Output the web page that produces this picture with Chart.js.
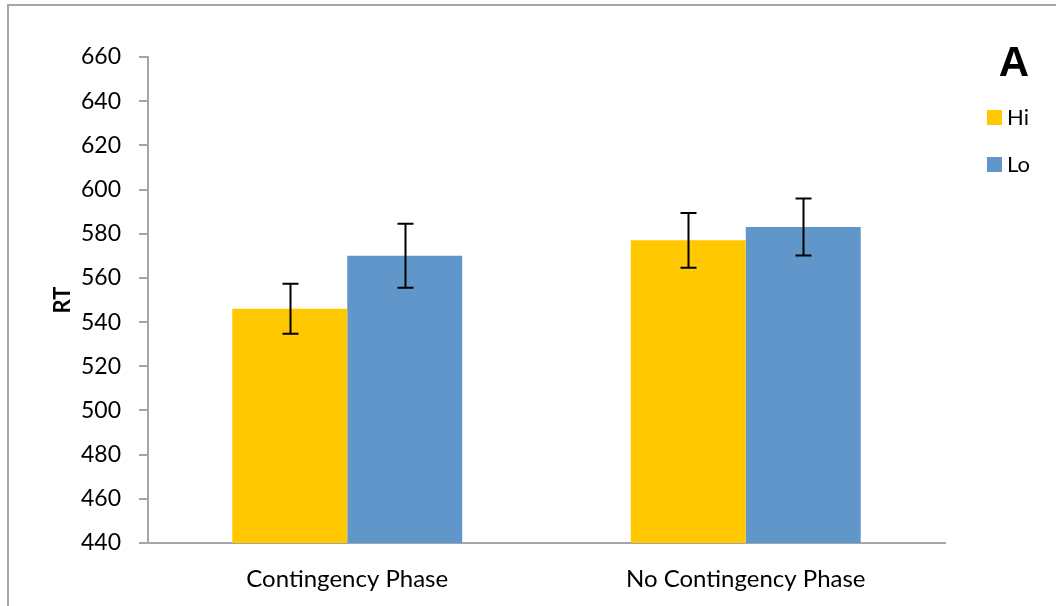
<!DOCTYPE html>
<html>
<head>
<meta charset="utf-8">
<script src="https://cdn.jsdelivr.net/npm/chart.js@4.4.0/dist/chart.umd.min.js"></script>
<style>
  html, body { margin: 0; padding: 0; background: #fff; }
  #wrap { position: relative; width: 1056px; height: 606px; overflow: hidden; }
  #frame { position: absolute; left: 7px; top: 4px; width: 1100px; height: 700px; border-left: 2px solid #a6a6a6; border-top: 2px solid #a6a6a6; box-sizing: border-box; }
  canvas { position: absolute; left: 0; top: 0; }
</style>
</head>
<body>
<div id="wrap">
  <div id="frame"></div>
  <canvas id="c" width="1056" height="606"></canvas>
</div>
<script>
const categories = ["Contingency Phase", "No Contingency Phase"];
const seriesNames = ["Hi", "Lo"];
const hiValues = [546, 577];
const loValues = [570, 583];
const hiErrors = [11.3, 12.4];
const loErrors = [14.5, 12.9];
const yTicks = [440, 460, 480, 500, 520, 540, 560, 580, 600, 620, 640, 660];
const panelLabel = "A";
const yTitle = "RT";

const FONT = "Lato";
const errors = [hiErrors, loErrors];

const errorBars = {
  id: 'errorBars',
  afterDatasetsDraw(chart) {
    const ctx = chart.ctx;
    const y = chart.scales.y;
    ctx.save();
    ctx.strokeStyle = '#000';
    ctx.lineWidth = 2;
    chart.data.datasets.forEach((ds, di) => {
      const meta = chart.getDatasetMeta(di);
      meta.data.forEach((bar, i) => {
        const v = ds.data[i];
        const e = errors[di][i];
        const x = Math.round(bar.x) + 0.5;
        const yt = y.getPixelForValue(v + e);
        const yb = y.getPixelForValue(v - e);
        const cap = 8;
        ctx.beginPath();
        ctx.moveTo(x, yt); ctx.lineTo(x, yb);
        ctx.moveTo(x - cap, yt); ctx.lineTo(x + cap, yt);
        ctx.moveTo(x - cap, yb); ctx.lineTo(x + cap, yb);
        ctx.stroke();
      });
    });
    ctx.restore();
  }
};

const sideLegend = {
  id: 'sideLegend',
  afterDraw(chart) {
    const ctx = chart.ctx;
    ctx.save();
    ctx.fillStyle = '#000';
    ctx.font = 'bold 42px "Liberation Sans"';
    ctx.textAlign = 'center';
    ctx.textBaseline = 'alphabetic';
    ctx.fillText(panelLabel, 1014, 76);
    const rows = [118, 165];
    chart.data.datasets.forEach((ds, i) => {
      const cy = rows[i];
      ctx.fillStyle = ds.backgroundColor;
      ctx.fillRect(987, cy - 8, 15, 15);
      ctx.fillStyle = '#000';
      ctx.font = '22px ' + FONT;
      ctx.textAlign = 'left';
      ctx.textBaseline = 'middle';
      ctx.fillText(ds.label, 1007, cy);
    });
    ctx.restore();
  }
};

new Chart(document.getElementById('c'), {
  type: 'bar',
  data: {
    labels: categories,
    datasets: [
      { label: seriesNames[0], data: hiValues, backgroundColor: '#FFC800', borderWidth: 0 },
      { label: seriesNames[1], data: loValues, backgroundColor: '#6096CA', borderWidth: 0 }
    ]
  },
  options: {
    responsive: false,
    animation: false,
    events: [],
    layout: { padding: { left: 0, top: 57, right: 111, bottom: 0 } },
    datasets: { bar: { categoryPercentage: 0.577, barPercentage: 1.0 } },
    plugins: { legend: { display: false }, tooltip: { enabled: false } },
    scales: {
      x: {
        grid: { display: false, drawTicks: false },
        border: { display: true, color: '#a6a6a6', width: 2 },
        ticks: { color: '#000', font: { family: FONT, size: 24 }, padding: 22 },
        afterFit(s) { s.height = 63; }
      },
      y: {
        min: 440, max: 660,
        afterBuildTicks(s) { s.ticks = yTicks.map(v => ({ value: v })); },
        grid: { drawOnChartArea: false, drawTicks: true, tickLength: 9, color: '#a6a6a6', lineWidth: 2 },
        border: { display: true, color: '#a6a6a6', width: 2 },
        ticks: { color: '#000', font: { family: FONT, size: 23 }, padding: 18 },
        title: { display: true, text: yTitle, color: '#000', font: { family: FONT, size: 22, weight: 'bold' }, padding: { top: 50, bottom: 0 } },
        afterFit(s) { s.width = 148; }
      }
    }
  },
  plugins: [errorBars, sideLegend]
});
</script>
</body>
</html>
